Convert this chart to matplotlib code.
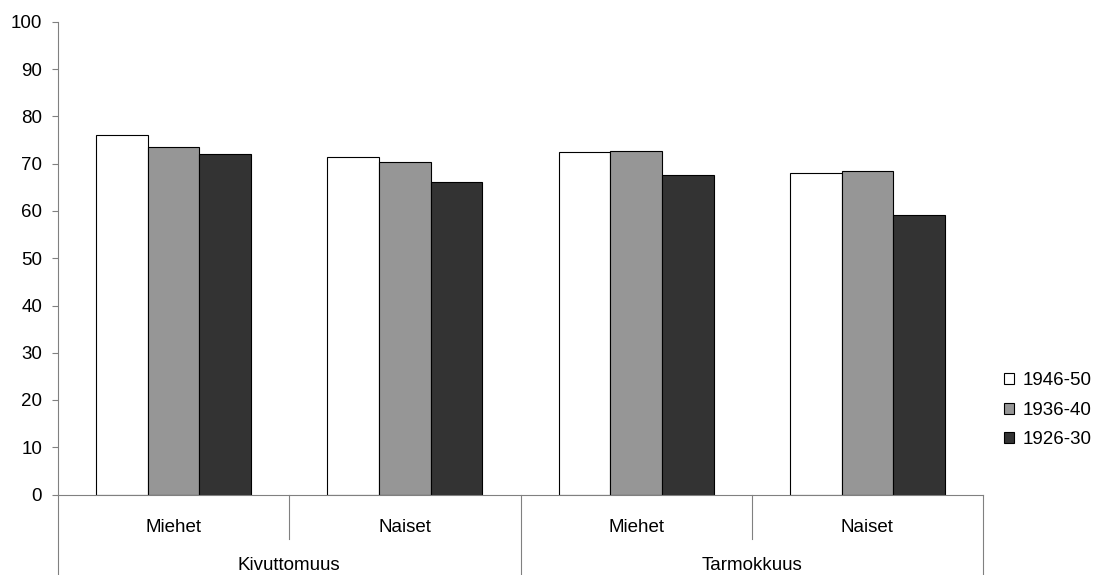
import matplotlib
matplotlib.use("Agg")
import matplotlib.pyplot as plt
import numpy as np

plt.rcParams['font.family'] = ['Liberation Sans', 'DejaVu Sans']

outer_labels = ["Kivuttomuus", "Tarmokkuus"]
inner_labels = ["Miehet", "Naiset", "Miehet", "Naiset"]
series_names = ["1946-50", "1936-40", "1926-30"]
v_1946_50 = [76.1, 71.5, 72.5, 68.1]
v_1936_40 = [73.5, 70.3, 72.8, 68.4]
v_1926_30 = [72.0, 66.1, 67.6, 59.1]
colors = ["#ffffff", "#969696", "#333333"]

W, H = 1101, 575
fig = plt.figure(figsize=(W / 100, H / 100), dpi=100)
ax_l, ax_r, ax_b, ax_t = 58, 983, 494.5, 22
ax = fig.add_axes([ax_l / W, 1 - ax_b / H, (ax_r - ax_l) / W, (ax_b - ax_t) / H])

FS = 13.5
n = len(inner_labels)
x = np.arange(n)
width = 0.2235
series = [v_1946_50, v_1936_40, v_1926_30]
for i, (vals, c, name) in enumerate(zip(series, colors, series_names)):
    ax.bar(x + (i - 1) * width, vals, width, color=c, edgecolor="black",
           linewidth=0.8, label=name)

ax.set_xlim(-0.5, n - 0.5)
ax.set_ylim(0, 100)
ax.set_yticks(range(0, 101, 10))
ax.tick_params(axis='y', direction='out', length=4.5, width=0.8, color="#808080",
               labelsize=FS, pad=7)
for s in ["top", "right"]:
    ax.spines[s].set_visible(False)
ax.spines["left"].set_color("#808080")
ax.spines["bottom"].set_color("#808080")
ax.set_xticks([])

# two-level category axis below the plot
trans = ax.get_xaxis_transform()
px = 1 / (ax_b - ax_t)  # one pixel in axes-height units
for b in [0.5, 2.5]:
    ax.plot([b, b], [0, -44 * px], transform=trans, color="#808080",
            lw=0.8, clip_on=False)
for b in [-0.5, 1.5, 3.5]:
    ax.plot([b, b], [0, -90 * px], transform=trans, color="#808080",
            lw=0.8, clip_on=False)
for xi, lab in zip(x, inner_labels):
    ax.text(xi, -32.5 * px, lab, transform=trans, ha="center", va="center",
            fontsize=FS)
for k, lab in enumerate(outer_labels):
    ax.text(2 * k + 0.5, -71 * px, lab, transform=trans, ha="center",
            va="center", fontsize=FS)

ax.legend(loc="upper left", bbox_to_anchor=(1004 / W, 1 - 372 / H),
          bbox_transform=fig.transFigure, frameon=False, fontsize=FS,
          handlelength=0.52, handleheight=0.52, handletextpad=0.5,
          labelspacing=0.68, borderpad=0, borderaxespad=0)

fig.savefig("out.png", dpi=100)
